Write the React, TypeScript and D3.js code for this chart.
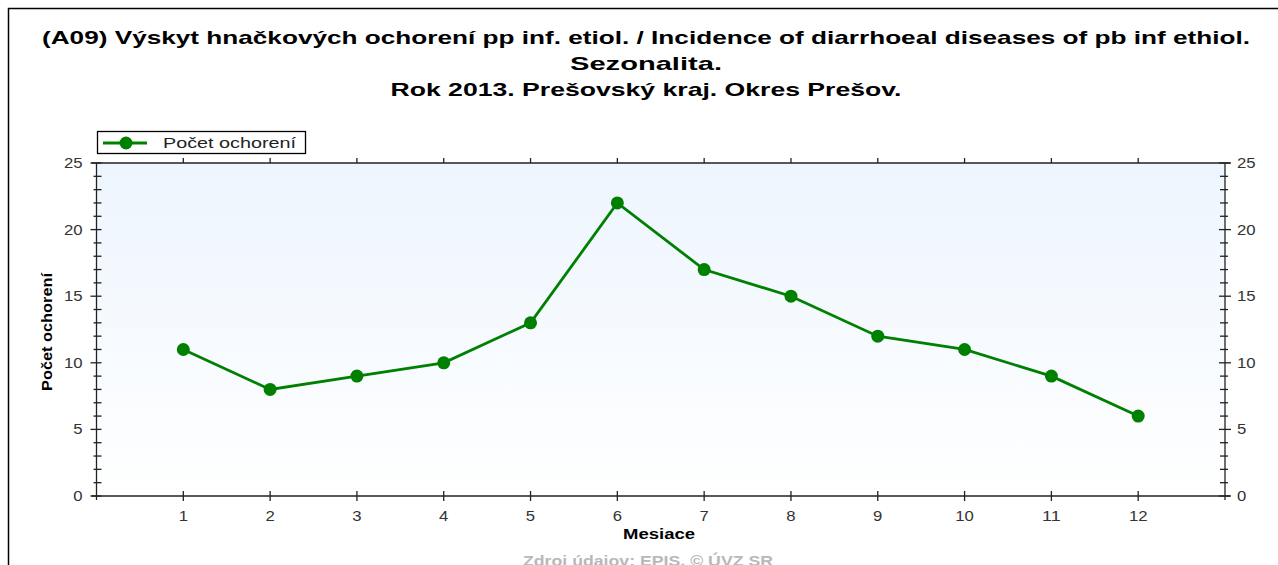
import { useRef, useEffect } from 'react';
import * as d3 from 'd3';

const months = [1, 2, 3, 4, 5, 6, 7, 8, 9, 10, 11, 12];
const cases = [11, 8, 9, 10, 13, 22, 17, 15, 12, 11, 9, 6];
const yTicks = [0, 5, 10, 15, 20, 25];
const titleLines = [
  '(A09) Výskyt hnačkových ochorení pp inf. etiol. / Incidence of diarrhoeal diseases of pb inf ethiol.',
  'Sezonalita.',
  'Rok 2013. Prešovský kraj. Okres Prešov.',
];
const seriesName = 'Počet ochorení';
const xTitle = 'Mesiace';
const yTitle = 'Počet ochorení';
const footer = 'Zdroj údajov: EPIS, © ÚVZ SR';

const W = 1278;
const H = 565;
const FONT = '"Liberation Sans", Arial, sans-serif';
const GREEN = '#008000';

// the source picture is stretched sideways, so texts get a fixed width
const titleWidths = [1208, 152, 511];

const App = () => {
  const svgRef = useRef<SVGSVGElement>(null);

  useEffect(() => {
    if (!svgRef.current) return;
    const svg = d3.select(svgRef.current);
    svg.selectAll('*').remove();

    const plot = { left: 96.5, right: 1225, top: 163, bottom: 496 };
    const x = d3.scaleLinear().domain([0, 13]).range([plot.left, plot.right]);
    const y = d3.scaleLinear().domain([0, 25]).range([plot.bottom, plot.top]);

    // Outer frame
    svg.append('rect').attr('x', 8.5).attr('y', 8.5).attr('width', W + 20).attr('height', H + 20)
      .attr('fill', '#fff').attr('stroke', '#000').attr('stroke-width', 1.5);

    // Title
    titleLines.forEach((t, i) => {
      svg.append('text')
        .attr('x', 646).attr('y', 44 + i * 26)
        .attr('text-anchor', 'middle')
        .attr('font-family', FONT).attr('font-size', '19px').attr('font-weight', 'bold')
        .attr('textLength', titleWidths[i]).attr('lengthAdjust', 'spacingAndGlyphs')
        .attr('fill', '#000')
        .text(t);
    });

    // Plot background gradient
    const defs = svg.append('defs');
    const grad = defs.append('linearGradient').attr('id', 'bg').attr('x1', 0).attr('y1', 0).attr('x2', 0).attr('y2', 1);
    grad.append('stop').attr('offset', '0%').attr('stop-color', '#edf5fe');
    grad.append('stop').attr('offset', '100%').attr('stop-color', '#ffffff');
    svg.append('rect')
      .attr('x', plot.left).attr('y', plot.top)
      .attr('width', plot.right - plot.left).attr('height', plot.bottom - plot.top)
      .attr('fill', 'url(#bg)');

    const axisColor = '#222';
    const g = svg.append('g').attr('stroke', axisColor).attr('stroke-width', 1.3);

    // Frame lines
    g.append('line').attr('x1', plot.left - 5).attr('x2', plot.right + 5).attr('y1', plot.top).attr('y2', plot.top);
    g.append('line').attr('x1', plot.left - 5).attr('x2', plot.right + 5).attr('y1', plot.bottom).attr('y2', plot.bottom);
    g.append('line').attr('x1', plot.left).attr('x2', plot.left).attr('y1', plot.top).attr('y2', plot.bottom + 4);
    g.append('line').attr('x1', plot.right).attr('x2', plot.right).attr('y1', plot.top).attr('y2', plot.bottom + 4);

    // X ticks (bottom and top)
    months.forEach((m) => {
      g.append('line').attr('x1', x(m)).attr('x2', x(m)).attr('y1', plot.bottom - 5).attr('y2', plot.bottom + 5);
      g.append('line').attr('x1', x(m)).attr('x2', x(m)).attr('y1', plot.top - 5).attr('y2', plot.top);
    });

    // Y ticks: major and minor
    const minor = d3.range(0, 25.01, 1).filter((v) => v % 5 !== 0);
    yTicks.forEach((v) => {
      g.append('line').attr('x1', plot.left - 6).attr('x2', plot.left + 5).attr('y1', y(v)).attr('y2', y(v));
      g.append('line').attr('x1', plot.right - 6).attr('x2', plot.right + 6).attr('y1', y(v)).attr('y2', y(v));
    });
    minor.forEach((v) => {
      g.append('line').attr('x1', plot.left - 3).attr('x2', plot.left + 5).attr('y1', y(v)).attr('y2', y(v));
      g.append('line').attr('x1', plot.right - 5).attr('x2', plot.right + 3).attr('y1', y(v)).attr('y2', y(v));
    });

    // Tick labels
    const lab = svg.append('g').attr('font-family', FONT).attr('font-size', '14px').attr('fill', '#333')
      .attr('lengthAdjust', 'spacingAndGlyphs');
    const digitW = 9.3;
    months.forEach((m) => {
      lab.append('text').attr('x', x(m)).attr('y', plot.bottom + 25).attr('text-anchor', 'middle')
        .attr('textLength', String(m).length * digitW).attr('lengthAdjust', 'spacingAndGlyphs').text(m);
    });
    yTicks.forEach((v) => {
      const tw = String(v).length * digitW;
      lab.append('text').attr('x', plot.left - 14).attr('y', y(v)).attr('dy', '0.35em').attr('text-anchor', 'end')
        .attr('textLength', tw).attr('lengthAdjust', 'spacingAndGlyphs').text(v);
      lab.append('text').attr('x', plot.right + 12).attr('y', y(v)).attr('dy', '0.35em').attr('text-anchor', 'start')
        .attr('textLength', tw).attr('lengthAdjust', 'spacingAndGlyphs').text(v);
    });

    // Axis titles
    svg.append('text')
      .attr('x', 659).attr('y', 539)
      .attr('text-anchor', 'middle')
      .attr('font-family', FONT).attr('font-size', '14px').attr('font-weight', 'bold')
      .attr('textLength', 72).attr('lengthAdjust', 'spacingAndGlyphs')
      .text(xTitle);
    svg.append('text')
      .attr('transform', `translate(52,332) rotate(-90)`)
      .attr('text-anchor', 'middle')
      .attr('font-family', FONT).attr('font-size', '14px').attr('font-weight', 'bold')
      .attr('textLength', 118).attr('lengthAdjust', 'spacingAndGlyphs')
      .text(yTitle);

    // Footer
    svg.append('text')
      .attr('x', 648).attr('y', 566)
      .attr('text-anchor', 'middle')
      .attr('font-family', FONT).attr('font-size', '15px').attr('font-weight', 'bold')
      .attr('textLength', 250).attr('lengthAdjust', 'spacingAndGlyphs')
      .attr('fill', '#b8b8b8')
      .text(footer);

    // Series
    const line = d3.line<number>().x((_, i) => x(months[i])).y((d) => y(d));
    svg.append('path').datum(cases).attr('d', line)
      .attr('fill', 'none').attr('stroke', GREEN).attr('stroke-width', 2.8);
    svg.append('g').selectAll('circle').data(cases).join('circle')
      .attr('cx', (_, i) => x(months[i])).attr('cy', (d) => y(d)).attr('r', 6.5)
      .attr('fill', GREEN);

    // Legend
    const leg = svg.append('g');
    leg.append('rect').attr('x', 97.5).attr('y', 131.5).attr('width', 208).attr('height', 22)
      .attr('fill', '#fff').attr('stroke', '#000').attr('stroke-width', 1.3);
    leg.append('line').attr('x1', 103).attr('x2', 147).attr('y1', 143).attr('y2', 143)
      .attr('stroke', GREEN).attr('stroke-width', 2.8);
    leg.append('circle').attr('cx', 126).attr('cy', 143).attr('r', 6.5).attr('fill', GREEN);
    leg.append('text').attr('x', 163).attr('y', 148)
      .attr('font-family', FONT).attr('font-size', '15px').attr('fill', '#222')
      .attr('textLength', 133).attr('lengthAdjust', 'spacingAndGlyphs')
      .text(seriesName);
  }, []);

  return (
    <svg
      ref={svgRef}
      width={W}
      height={H}
      style={{ position: 'absolute', left: 0, top: 0, display: 'block', background: '#fff' }}
    />
  );
};

export default App;
